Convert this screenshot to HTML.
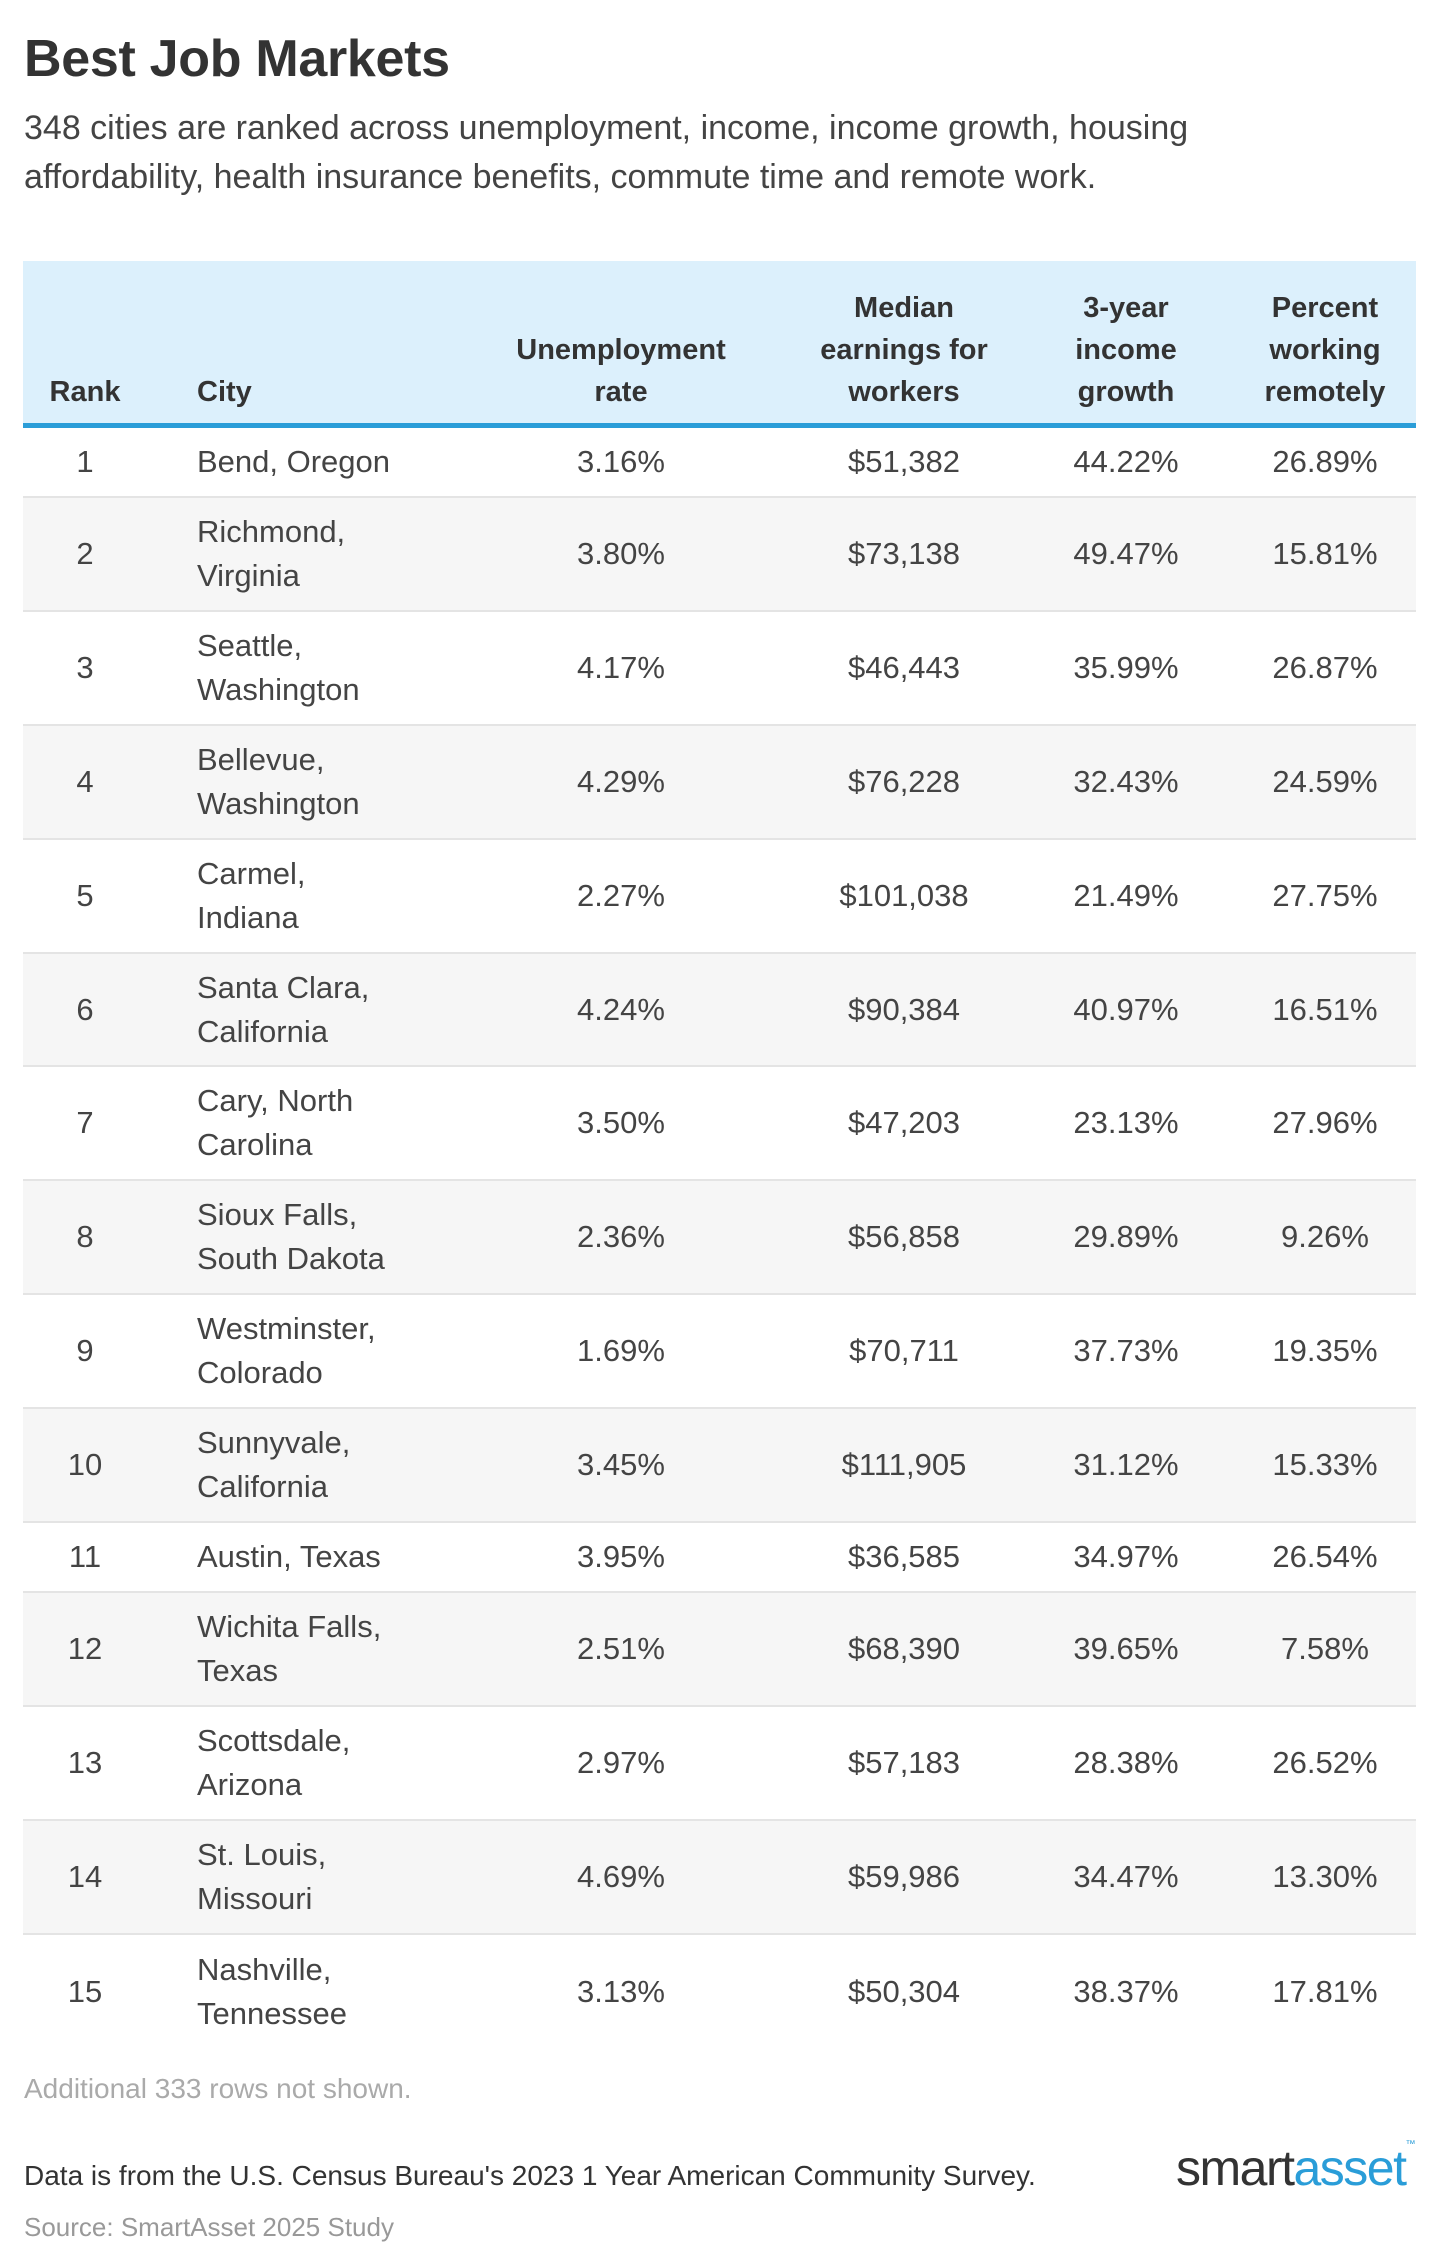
<!DOCTYPE html>
<html><head><meta charset="utf-8">
<style>
*{margin:0;padding:0;box-sizing:border-box}
body{width:1440px;height:2265px;background:#fff;font-family:"Liberation Sans",sans-serif;color:#333;position:relative;overflow:hidden}
.a{position:absolute}
h1{position:absolute;left:24px;top:29px;font-size:52px;font-weight:bold;color:#333;letter-spacing:-0.3px}
.sub{left:24px;top:104px;font-size:34px;line-height:49px;color:#444;width:1290px}
.hdr{left:23px;top:261px;width:1393px;height:167px;background:#dcf0fc;border-bottom:5px solid #2a9dd8}
.h{position:absolute;font-weight:bold;font-size:29px;line-height:42px;color:#333;text-align:center;bottom:10px}
.row{position:absolute;left:23px;width:1393px;border-bottom:2px solid #e4e4e4}
.row.g{background:#f6f6f6}
.c{position:absolute;top:0;height:100%;display:flex;align-items:center;font-size:31px;line-height:44px;color:#444}
.cc{justify-content:center;text-align:center}
</style></head><body>
<h1>Best Job Markets</h1>
<div class="a sub">348 cities are ranked across unemployment, income, income growth, housing affordability, health insurance benefits, commute time and remote work.</div>
<div class="a hdr">
<div class="h" style="left:22px;width:80px;text-align:center">Rank</div>
<div class="h" style="left:174px;text-align:left">City</div>
<div class="h" style="left:478px;width:240px">Unemployment<br>rate</div>
<div class="h" style="left:761px;width:240px">Median<br>earnings for<br>workers</div>
<div class="h" style="left:1003px;width:200px">3-year<br>income<br>growth</div>
<div class="h" style="left:1202px;width:200px">Percent<br>working<br>remotely</div>
</div>
<div id="rows"></div>
<script>
var d=[["1","Bend, Oregon","3.16%","$51,382","44.22%","26.89%"],
["2","Richmond,<br>Virginia","3.80%","$73,138","49.47%","15.81%"],
["3","Seattle,<br>Washington","4.17%","$46,443","35.99%","26.87%"],
["4","Bellevue,<br>Washington","4.29%","$76,228","32.43%","24.59%"],
["5","Carmel,<br>Indiana","2.27%","$101,038","21.49%","27.75%"],
["6","Santa Clara,<br>California","4.24%","$90,384","40.97%","16.51%"],
["7","Cary, North<br>Carolina","3.50%","$47,203","23.13%","27.96%"],
["8","Sioux Falls,<br>South Dakota","2.36%","$56,858","29.89%","9.26%"],
["9","Westminster,<br>Colorado","1.69%","$70,711","37.73%","19.35%"],
["10","Sunnyvale,<br>California","3.45%","$111,905","31.12%","15.33%"],
["11","Austin, Texas","3.95%","$36,585","34.97%","26.54%"],
["12","Wichita Falls,<br>Texas","2.51%","$68,390","39.65%","7.58%"],
["13","Scottsdale,<br>Arizona","2.97%","$57,183","28.38%","26.52%"],
["14","St. Louis,<br>Missouri","4.69%","$59,986","34.47%","13.30%"],
["15","Nashville,<br>Tennessee","3.13%","$50,304","38.37%","17.81%"]];
var y=428,h="";
d.forEach(function(r,i){
 var ht=r[1].indexOf("<br>")>=0?113.9:70;
 var last=i==d.length-1;
 h+='<div class="row'+(i%2?' g':'')+'" style="top:'+y+'px;height:'+ht+'px;'+(last?'border-bottom:none':'')+'">'+
 '<div class="c cc" style="left:22px;width:80px">'+r[0]+'</div>'+
 '<div class="c" style="left:174px;width:300px">'+r[1]+'</div>'+
 '<div class="c cc" style="left:478px;width:240px">'+r[2]+'</div>'+
 '<div class="c cc" style="left:761px;width:240px">'+r[3]+'</div>'+
 '<div class="c cc" style="left:1003px;width:200px">'+r[4]+'</div>'+
 '<div class="c cc" style="left:1202px;width:200px">'+r[5]+'</div></div>';
 y+=ht;
});
document.getElementById("rows").innerHTML=h;
</script>
<div class="a" style="left:24px;top:2073px;font-size:28px;color:#aaa">Additional 333 rows not shown.</div>
<div class="a" style="left:24px;top:2160px;font-size:28px;color:#333">Data is from the U.S. Census Bureau's 2023 1 Year American Community Survey.</div>
<div class="a" style="left:24px;top:2212px;font-size:26px;color:#999">Source: SmartAsset 2025 Study</div>
<div class="a" style="left:1176px;top:2139px;font-size:50px;letter-spacing:-1.5px;color:#333">smart<span style="color:#2a9dd8">asset</span><sup style="font-size:10px;color:#2a9dd8;vertical-align:top">™</sup></div>
</body></html>
